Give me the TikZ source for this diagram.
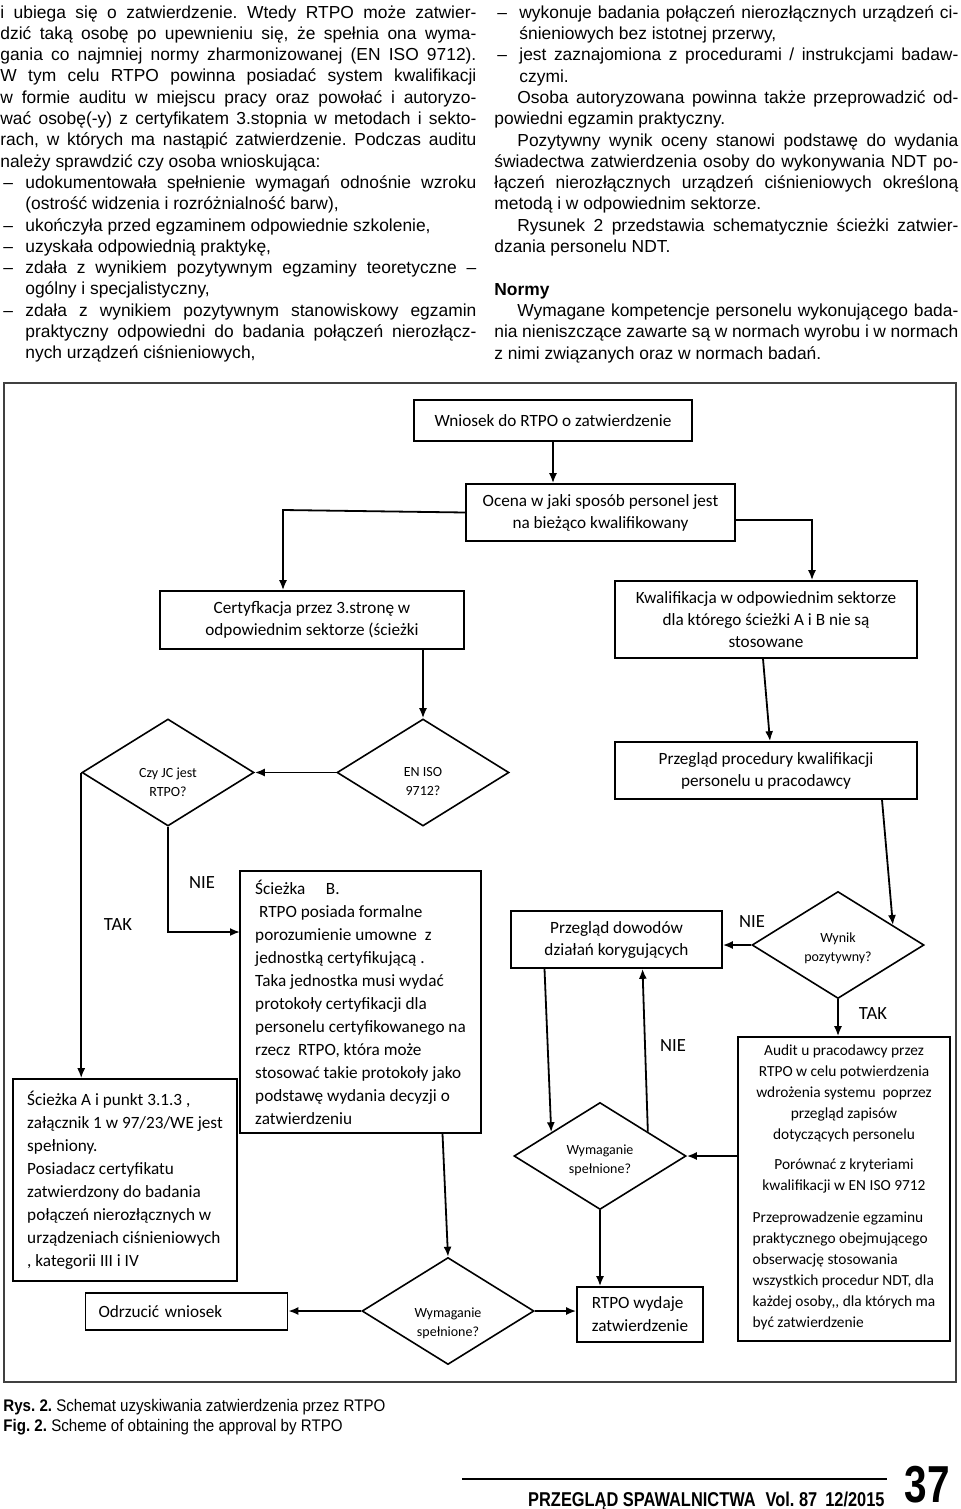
\documentclass[tikz,border=0pt]{standalone}
\usepackage{fontspec}
\setmainfont{Liberation Sans}
\newfontfamily\calib{Carlito}
\newfontfamily\capfont[FakeStretch=0.9]{Liberation Sans}
\newfontfamily\footfont[FakeStretch=0.82]{Liberation Sans}
\newfontfamily\pagefont[FakeStretch=0.78]{Liberation Sans}
\usetikzlibrary{shapes.geometric, arrows.meta, positioning, calc}
\frenchspacing

% column text helpers
\newlength\colw
\newlength\itind \setlength\itind{12.5pt}
\newlength\firstind \setlength\firstind{11.5pt}
\newcommand\jl[1]{\makebox[\colw][s]{#1}}
\newcommand\dashj[1]{\makebox[\itind][l]{\,–}\makebox[\dimexpr\colw-\itind\relax][s]{#1}}
\newcommand\dashl[1]{\makebox[\itind][l]{\,–}#1}
\newcommand\contj[1]{\hspace*{\itind}\makebox[\dimexpr\colw-\itind\relax][s]{#1}}
\newcommand\contl[1]{\hspace*{\itind}#1}
\newcommand\parj[1]{\hspace*{\firstind}\makebox[\dimexpr\colw-\firstind\relax][s]{#1}}

\begin{document}
\begin{tikzpicture}[
    x=0.5pt, y=-0.5pt,
    box/.style={draw, line width=0.8pt, inner sep=2pt, align=center, font=\calib\fontsize{8.6}{11}\selectfont},
    pathbox/.style={box, align=left, font=\calib\fontsize{8.6}{11.5}\selectfont},
    decision/.style={draw, diamond, line width=0.8pt, minimum width=86pt, minimum height=53.5pt, inner sep=0pt},
    question/.style={align=center, inner sep=0pt, font=\calib\fontsize{7}{9.5}\selectfont},
    answer/.style={inner sep=0pt, font=\calib\fontsize{9.3}{11}\selectfont},
    arrow/.style={-{Latex[length=5pt, width=4pt]}, line width=0.9pt},
    column/.style={anchor=north west, inner sep=0pt, align=left, font=\fontsize{8.7}{10.65}\selectfont}
]
    \useasboundingbox (0,0) rectangle (960,1509);

    % Article text
    \node[column, execute at begin node={\setlength\colw{238pt}}] (leftcol) at (0,5) {%
        \jl{i ubiega się o zatwierdzenie. Wtedy RTPO może zatwier-}\\
        \jl{dzić taką osobę po upewnieniu się, że spełnia ona wyma-}\\
        \jl{gania co najmniej normy zharmonizowanej (EN ISO 9712).}\\
        \jl{W tym celu RTPO powinna posiadać system kwalifikacji}\\
        \jl{w formie auditu w miejscu pracy oraz powołać i autoryzo-}\\
        \jl{wać osobę(-y) z certyfikatem 3.stopnia w metodach i sekto-}\\
        \jl{rach, w których ma nastąpić zatwierdzenie. Podczas auditu}\\
        należy sprawdzić czy osoba wnioskująca:\\
        \dashj{udokumentowała spełnienie wymagań odnośnie wzroku}\\
        \contl{(ostrość widzenia i rozróżnialność barw),}\\
        \dashl{ukończyła przed egzaminem odpowiednie szkolenie,}\\
        \dashl{uzyskała odpowiednią praktykę,}\\
        \dashj{zdała z wynikiem pozytywnym egzaminy teoretyczne –}\\
        \contl{ogólny i specjalistyczny,}\\
        \dashj{zdała z wynikiem pozytywnym stanowiskowy egzamin}\\
        \contj{praktyczny odpowiedni do badania połączeń nierozłącz-}\\
        \contl{nych urządzeń ciśnieniowych,}};
    \node[column, execute at begin node={\setlength\colw{232pt}}] (rightcol) at (494,5) {%
        \dashj{wykonuje badania połączeń nierozłącznych urządzeń ci-}\\
        \contl{śnieniowych bez istotnej przerwy,}\\
        \dashj{jest zaznajomiona z procedurami / instrukcjami badaw-}\\
        \contl{czymi.}\\
        \parj{Osoba autoryzowana powinna także przeprowadzić od-}\\
        powiedni egzamin praktyczny.\\
        \parj{Pozytywny wynik oceny stanowi podstawę do wydania}\\
        \jl{świadectwa zatwierdzenia osoby do wykonywania NDT po-}\\
        \jl{łączeń nierozłącznych urządzeń ciśnieniowych określoną}\\
        metodą i w odpowiednim sektorze.\\
        \parj{Rysunek 2 przedstawia schematycznie ścieżki zatwier-}\\
        dzania personelu NDT.\\
        \mbox{}\\
        \textbf{Normy}\\
        \parj{Wymagane kompetencje personelu wykonującego bada-}\\
        \jl{nia nieniszczące zawarte są w normach wyrobu i w normach}\\
        z nimi związanych oraz w normach badań.};

    % Figure frame
    \draw[line width=0.8pt, black!75] (4,383) rectangle (956,1382);

    % Flow boxes
    \node[box, minimum width=139pt, minimum height=20.5pt] (wniosek) at (553,420.5) {Wniosek do RTPO o zatwierdzenie};
    \node[box, minimum width=134.5pt, minimum height=28.5pt] (ocena) at (600.5,512.5) {Ocena w jaki sposób personel jest\\na bieżąco kwalifikowany};
    \node[box, minimum width=152pt, minimum height=29pt] (certyf) at (312,620) {Certyfkacja przez 3.stronę w\\odpowiednim sektorze (ścieżki};
    \node[box, minimum width=151pt, minimum height=38.5pt] (kwalif) at (766,619.5) {Kwalifikacja w odpowiednim sektorze\\dla którego ścieżki A i B nie są\\stosowane};
    \node[box, minimum width=151pt, minimum height=28.5pt] (proc) at (766,770.5) {Przegląd procedury kwalifikacji\\personelu u pracodawcy};
    \node[box, minimum width=105.5pt, minimum height=28.5pt] (dowody) at (616.5,939.5) {Przegląd dowodów\\działań korygujących};
    \node[pathbox, minimum width=120.5pt, minimum height=131pt] (pathB) at (360.5,1002) {Ścieżka\hspace{1.2em}B.\\\ RTPO posiada formalne\\porozumienie umowne\ \ z\\jednostką certyfikującą .\\Taka jednostka musi wydać\\protokoły certyfikacji dla\\personelu certyfikowanego na\\rzecz\ \ RTPO, która może\\stosować takie protokoły jako\\podstawę wydania decyzji o\\zatwierdzeniu};
    \node[pathbox, minimum width=112pt, minimum height=101pt] (pathA) at (125,1180) {Ścieżka A i punkt 3.1.3 ,\\załącznik 1 w 97/23/WE jest\\spełniony.\\Posiadacz certyfikatu\\zatwierdzony do badania\\połączeń nierozłącznych w\\urządzeniach ciśnieniowych\\, kategorii III i IV};
    \node[box, align=left, text width=88pt, inner xsep=6.5pt, minimum height=18.5pt] (odrzuc) at (186.5,1311.5) {Odrzucić wniosek};
    \node[pathbox, minimum width=63pt, minimum height=27.5pt] (rtpo) at (640,1314.5) {RTPO wydaje\\zatwierdzenie};
    \node[box, font=\calib\fontsize{7.7}{10.5}\selectfont, minimum width=106pt, minimum height=152pt] (audit) at (844,1189) {Audit u pracodawcy przez\\RTPO w celu potwierdzenia\\wdrożenia systemu\ \ poprzez\\przegląd zapisów\\dotyczących personelu\\[4.5pt]Porównać z kryteriami\\kwalifikacji w EN ISO 9712\\[5.5pt]\begin{tabular}[t]{@{}l@{}}Przeprowadzenie egzaminu\\praktycznego obejmującego\\obserwację stosowania\\wszystkich procedur NDT, dla\\każdej osoby,, dla których ma\\być zatwierdzenie\end{tabular}};

    % Decisions
    \node[decision] (jc) at (168,772.5) {};
    \node[question] (jcq) at ($(jc)+(0,9.5)$) {Czy JC jest\\RTPO?};
    \node[decision] (eniso) at (423,772.5) {};
    \node[question] (enisoq) at ($(eniso)+(0,9)$) {EN ISO\\9712?};
    \node[decision] (wynik) at (838,945) {};
    \node[question] (wynikq) at ($(wynik)+(0,3)$) {Wynik\\pozytywny?};
    \node[decision] (wymup) at (600,1156) {};
    \node[question] (wymupq) at ($(wymup)+(0,4)$) {Wymaganie\\spełnione?};
    \node[decision] (wymlow) at (448,1311) {};
    \node[question] (wymlowq) at ($(wymlow)+(0,12.5)$) {Wymaganie\\spełnione?};

    % Connectors
    \coordinate (ocL) at (283,510);
    \coordinate (ocR) at (812,520);
    \coordinate (pathBin) at (240,932);
    \draw[arrow] (wniosek.south) -- (wniosek.south |- ocena.north);
    \draw[arrow] (ocena.west) -- (ocL) -- (ocL |- certyf.north);
    \draw[arrow] (ocena.east |- ocR) -- (ocR) -- (ocR |- kwalif.north);
    \draw[arrow] (eniso.north |- certyf.south) -- (eniso.north);
    \draw[arrow] (eniso.west) -- (jc.east);
    \draw[arrow] (jc.west) -- (jc.west |- pathA.north);
    \draw[arrow] (jc.south) |- (pathBin);
    \draw[arrow] ([xshift=-1.5pt]kwalif.south) -- ([xshift=2pt]proc.north);
    \draw[arrow] ([xshift=58pt]proc.south) -- (wynik.20);
    \draw[arrow] (wynik.west) -- (wynik.west -| dowody.east);
    \draw[arrow] (wynik.south) -- (wynik.south |- audit.north);
    \draw[arrow] ([xshift=-36pt]dowody.south) -- (wymup.154);
    \draw[arrow] (wymup.27) -- ([xshift=13pt]dowody.south);
    \draw[arrow] (audit.west |- wymup.east) -- (wymup.east);
    \draw[arrow] (wymup.south) -- (wymup.south |- rtpo.north);
    \draw[arrow] ([xshift=41pt]pathB.south) -- (wymlow.north);
    \draw[arrow] (wymlow.west) -- (wymlow.west -| odrzuc.east);
    \draw[arrow] (wymlow.east) -- (wymlow.east -| rtpo.west);

    % Answers
    \node[answer] (takA) at (118,925) {TAK};
    \node[answer] (nieB) at (202,883) {NIE};
    \node[answer] (nieW) at (752,922) {NIE};
    \node[answer] (takW) at (873,1014) {TAK};
    \node[answer] (nieR) at (673,1046) {NIE};

    % Caption and footer
    \node[anchor=north west, inner sep=0pt, align=left, font=\capfont\fontsize{8.4}{10}\selectfont] (caption) at (3,1399) {\textbf{Rys. 2.} Schemat uzyskiwania zatwierdzenia przez RTPO\\\textbf{Fig. 2.} Scheme of obtaining the approval by RTPO};
    \draw[line width=1.1pt] (462,1479) -- (887,1479);
    \node[anchor=base east, inner sep=0pt, font=\footfont\bfseries\fontsize{10}{12}\selectfont] (journal) at (885,1506) {PRZEGLĄD SPAWALNICTWA\hspace{0.5em}Vol. 87\hspace{0.4em}12/2015};
    \node[anchor=base east, inner sep=0pt, font=\pagefont\bfseries\fontsize{26}{28}\selectfont] (pageno) at (950,1502) {37};
\end{tikzpicture}
\end{document}
